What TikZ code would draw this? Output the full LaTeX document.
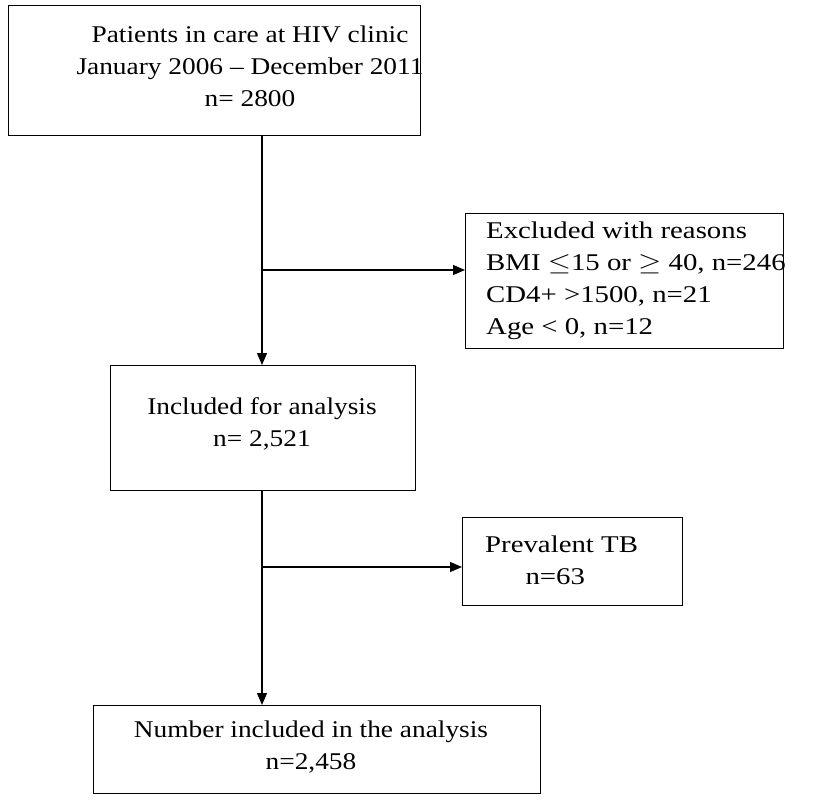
\documentclass[tikz,border=0pt]{standalone}
\usepackage{fontspec}
\usepackage{amssymb}
\usepackage{graphicx}
\setmainfont{Liberation Serif}
\usetikzlibrary{arrows.meta}
\setlength{\tabcolsep}{0pt}
\newcommand\wtc[1]{\scalebox{1.14}[1]{\fontsize{24}{32}\selectfont\begin{tabular}{c}#1\end{tabular}}}
\newcommand\wtl[1]{\scalebox{1.2}[1]{\fontsize{24}{32}\selectfont\begin{tabular}{l}#1\end{tabular}}}
\begin{document}
\begin{tikzpicture}[x=1pt,y=-1pt,
  box/.style={draw,line width=1.2pt,inner sep=0pt},
  txt/.style={inner sep=0pt},
  arr/.style={line width=1.2pt,-{Triangle[length=12pt,width=10pt]}}]
\useasboundingbox (0,0) rectangle (816,800);
\node[box,minimum width=412,minimum height=130,anchor=north west] (b1) at (8,5) {};
\node[txt] (t1) at (250,68) {\wtc{Patients in care at HIV clinic\\January 2006 -- December 2011\\n= 2800}};
\node[box,minimum width=318,minimum height=135,anchor=north west] (b2) at (465,213) {};
\node[txt,anchor=west] (t2) at (486,280) {\wtl{Excluded with reasons\\BMI $\leq$15 or $\geq$ 40, n=246\\CD4+ >1500, n=21\\Age < 0, n=12}};
\node[box,minimum width=305,minimum height=125,anchor=north west] (b3) at (110,365) {};
\node[txt] (t3) at (262,424) {\wtc{Included for analysis\\n= 2,521}};
\node[box,minimum width=220,minimum height=88,anchor=north west] (b4) at (462,517) {};
\node[txt,anchor=west] (t4) at (485,562) {\wtl{Prevalent TB\\\hspace*{1.4em}n=63}};
\node[box,minimum width=447,minimum height=88,anchor=north west] (b5) at (93,705) {};
\node[txt] (t5) at (311,747) {\wtc{Number included in the analysis\\n=2,458}};
\coordinate (j1) at (262,270);
\coordinate (j2) at (262,567);
\draw[arr] (b1.south -| j1) -- (b3.north -| j1);
\draw[arr] (j1) -- (j1 -| b2.west);
\draw[arr] (b3.south -| j2) -- (b5.north -| j2);
\draw[arr] (j2) -- (j2 -| b4.west);
\end{tikzpicture}
\end{document}
